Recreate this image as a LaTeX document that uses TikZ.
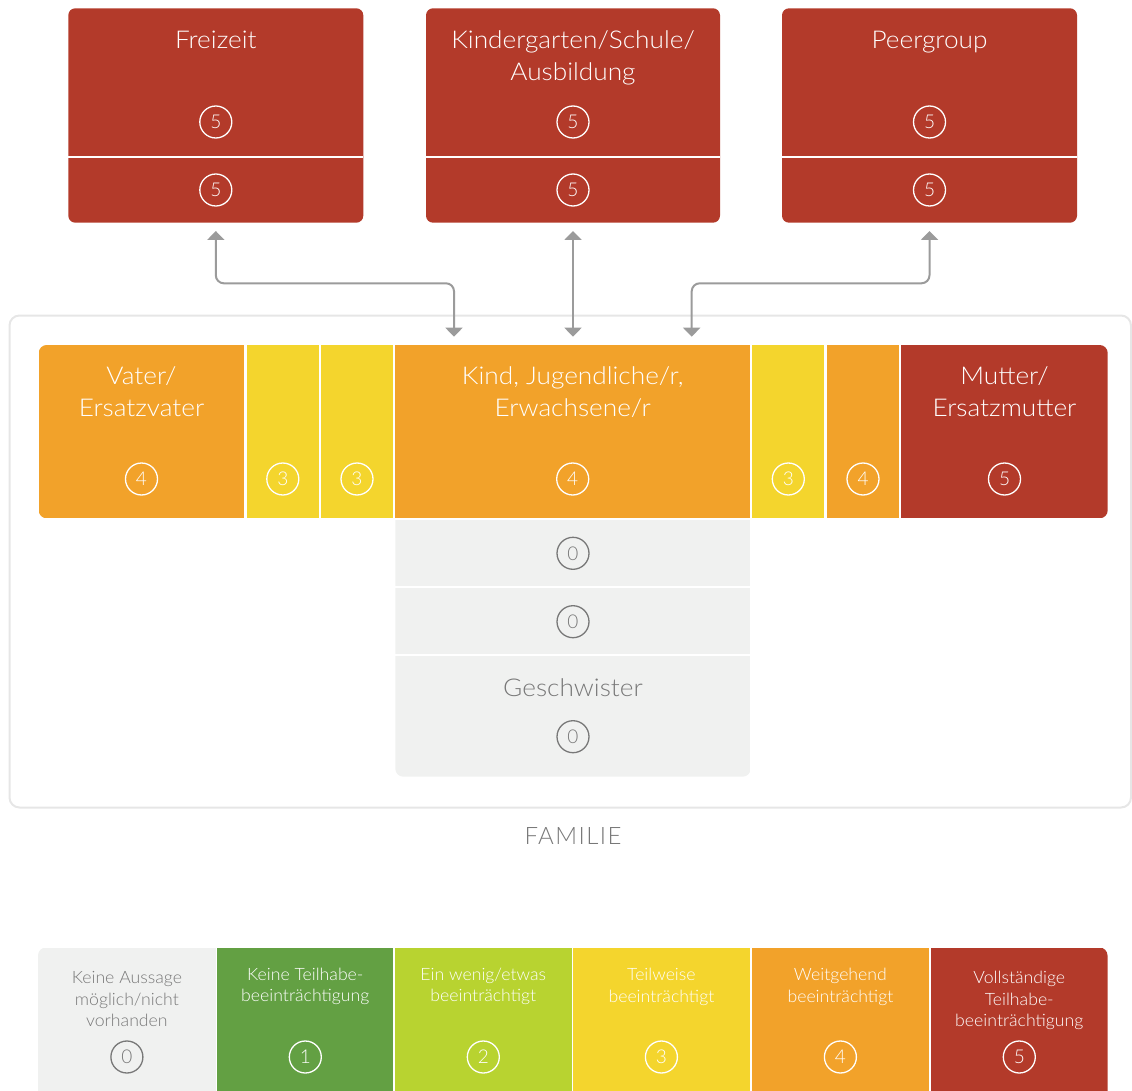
\documentclass[tikz,border=0pt]{standalone}
\usepackage{fontspec}
\setmainfont{Lato}[UprightFont={* Light}]
\usetikzlibrary{arrows.meta}

\definecolor{tkred}{HTML}{B33A2A}
\definecolor{tkorange}{HTML}{F2A22A}
\definecolor{tkyellow}{HTML}{F4D52D}
\definecolor{tklime}{HTML}{B8D330}
\definecolor{tkgreen}{HTML}{63A043}
\definecolor{tkpale}{HTML}{F0F1F0}
\definecolor{tkgraytext}{HTML}{787878}
\definecolor{tkarrow}{HTML}{9B9B9B}
\definecolor{tkframe}{HTML}{E6E6E6}

\tikzset{
  cell/.style={inner sep=0pt, outer sep=0pt, anchor=north west, draw=none},
  num/.style={circle, draw=white, text=white, line width=1.3pt, minimum size=32pt,
    inner sep=0pt, font=\fontsize{19}{19}\selectfont},
  numgray/.style={num, draw=tkgraytext, text=tkgraytext},
  % multi-line labels: the base anchor sits on the last line
  boxlabel/.style={anchor=base, inner sep=0pt, text=white, align=center,
    font={\fontsize{24.5}{32}\selectfont\addfontfeatures{FakeStretch=1.07}}},
  legendtext/.style={anchor=base, inner sep=0pt, text=white, align=center,
    font={\fontsize{17}{21.7}\selectfont\addfontfeatures{FakeStretch=1.04}}},
  conn/.style={draw=tkarrow, line width=2pt, rounded corners=8pt,
    {Triangle[width=17pt,length=9pt]}-{Triangle[width=17pt,length=9pt]},
    shorten <=8.3pt, shorten >=8.3pt},
}

% filled cell given by its top-left and bottom-right corner
\newcommand\cellnode[6]{%
  \node[cell, fill=#2, minimum width={#5-#3}, minimum height={#6-#4}] (#1) at (#3,#4) {};}

\begin{document}
\begin{tikzpicture}[x=1pt, y=-1pt]
\useasboundingbox (0,0) rectangle (1132,1091);

% ---------- outer areas ----------
\node[cell, fill=tkred, rounded corners=7pt, minimum width=295, minimum height=214.4] (frei) at (68.3,8.3) {};
\node[cell, fill=tkred, rounded corners=7pt, minimum width=294, minimum height=214.4] (kg) at (426,8.3) {};
\node[cell, fill=tkred, rounded corners=7pt, minimum width=295, minimum height=214.4] (peer) at (782,8.3) {};
\foreach \a/\b in {68.3/363.3, 426/720, 782/1077}
  \draw[white, line width=2pt] (\a,157) -- (\b,157);

\node[boxlabel] (tfrei) at (215.8,49) {Freizeit};
\node[boxlabel] (tkg) at (573,81) {Kindergarten/Schule/\\Ausbildung};
\node[boxlabel] (tpeer) at (929.5,49) {Peergroup};
\node[num] (nfreia) at (215.8,122) {5};
\node[num] (nfreib) at (215.8,190) {5};
\node[num] (nkga) at (573,122) {5};
\node[num] (nkgb) at (573,190) {5};
\node[num] (npeera) at (929.5,122) {5};
\node[num] (npeerb) at (929.5,190) {5};

% ---------- family frame ----------
\draw[tkframe, line width=2pt, rounded corners=10pt] (9.5,315.5) rectangle (1131,807.5);
\node[anchor=base, inner sep=0pt, text=tkgraytext,
  font={\fontsize{24}{28}\selectfont\addfontfeatures{LetterSpace=6}}] (familie) at (573,844) {FAMILIE};

% family row
\begin{scope}
  \clip[rounded corners=8pt] (38.7,345) rectangle (1107.7,518.3);
  \cellnode{vater}{tkorange}{38.7}{345}{244.3}{518.3}
  \cellnode{ya}{tkyellow}{246.7}{345}{319}{518.3}
  \cellnode{yb}{tkyellow}{321}{345}{393}{518.3}
  \cellnode{kind}{tkorange}{395.3}{345}{750}{518.3}
  \cellnode{yc}{tkyellow}{752.3}{345}{824.3}{518.3}
  \cellnode{oc}{tkorange}{826.7}{345}{899.3}{518.3}
  \cellnode{mutter}{tkred}{901.3}{345}{1107.7}{518.3}
\end{scope}
\node[boxlabel] (tvater) at (141.5,416.7) {Vater/\\Ersatzvater};
\node[boxlabel] (tkind) at (572.7,416.7) {Kind, Jugendliche/r,\\Erwachsene/r};
\node[boxlabel] (tmutter) at (1004.5,416.7) {Mutter/\\Ersatzmutter};
\node[num] (nvater) at (141.5,479) {4};
\node[num] (nya) at (282.8,479) {3};
\node[num] (nyb) at (357,479) {3};
\node[num] (nkind) at (572.7,479) {4};
\node[num] (nyc) at (788.3,479) {3};
\node[num] (noc) at (863,479) {4};
\node[num] (nmutter) at (1004.5,479) {5};

% siblings column
\begin{scope}
  \clip[rounded corners=8pt] (395.3,480) rectangle (750.7,776.7);
  \cellnode{siba}{tkpale}{395.3}{520}{750.7}{586.3}
  \cellnode{sibb}{tkpale}{395.3}{588.3}{750.7}{654.3}
  \cellnode{sibc}{tkpale}{395.3}{656.3}{750.7}{776.7}
\end{scope}
\node[numgray] (nsiba) at (573,553.3) {0};
\node[numgray] (nsibb) at (573,621.7) {0};
\node[boxlabel, text=tkgraytext] (tsib) at (573,696.7) {Geschwister};
\node[numgray] (nsibc) at (573,736.7) {0};

% ---------- connectors ----------
\coordinate (kinL) at (454,345);
\coordinate (kinR) at (691.7,345);
\draw[conn] (frei.south) -- ++(0,60.6) -| (kinL);
\draw[conn] (kg.south) -- (kg.south |- kind.north);
\draw[conn] (peer.south) -- ++(0,60.6) -| (kinR);

% ---------- legend ----------
\begin{scope}
  \clip[rounded corners=8pt] (38,947.5) rectangle (1107.5,1130);
  \cellnode{lega}{tkpale}{38}{947.5}{215.8}{1091}
  \cellnode{legb}{tkgreen}{217.3}{947.5}{393.3}{1091}
  \cellnode{legc}{tklime}{395}{947.5}{571.5}{1091}
  \cellnode{legd}{tkyellow}{573}{947.5}{749.7}{1091}
  \cellnode{lege}{tkorange}{751.5}{947.5}{929.3}{1091}
  \cellnode{legf}{tkred}{931}{947.5}{1107.5}{1091}
\end{scope}
\node[legendtext, text=tkgraytext] (tlega) at (126.9,1026.9) {Keine Aussage\\möglich/nicht\\vorhanden};
\node[legendtext] (tlegb) at (305.3,1001.7) {Keine Teilhabe-\\beeinträchtigung};
\node[legendtext] (tlegc) at (483.3,1001.7) {Ein wenig/etwas\\beeinträchtigt};
\node[legendtext] (tlegd) at (661.4,1002.2) {Teilweise\\beeinträchtigt};
\node[legendtext] (tlege) at (840.4,1002.2) {Weitgehend\\beeinträchtigt};
\node[legendtext] (tlegf) at (1019.3,1026.9) {Vollständige\\Teilhabe-\\beeinträchtigung};
\node[numgray] (nlega) at (126.9,1057) {0};
\node[num] (nlegb) at (305.3,1057) {1};
\node[num] (nlegc) at (483.3,1057) {2};
\node[num] (nlegd) at (661.4,1057) {3};
\node[num] (nlege) at (840.4,1057) {4};
\node[num] (nlegf) at (1019.3,1057) {5};
\end{tikzpicture}
\end{document}
